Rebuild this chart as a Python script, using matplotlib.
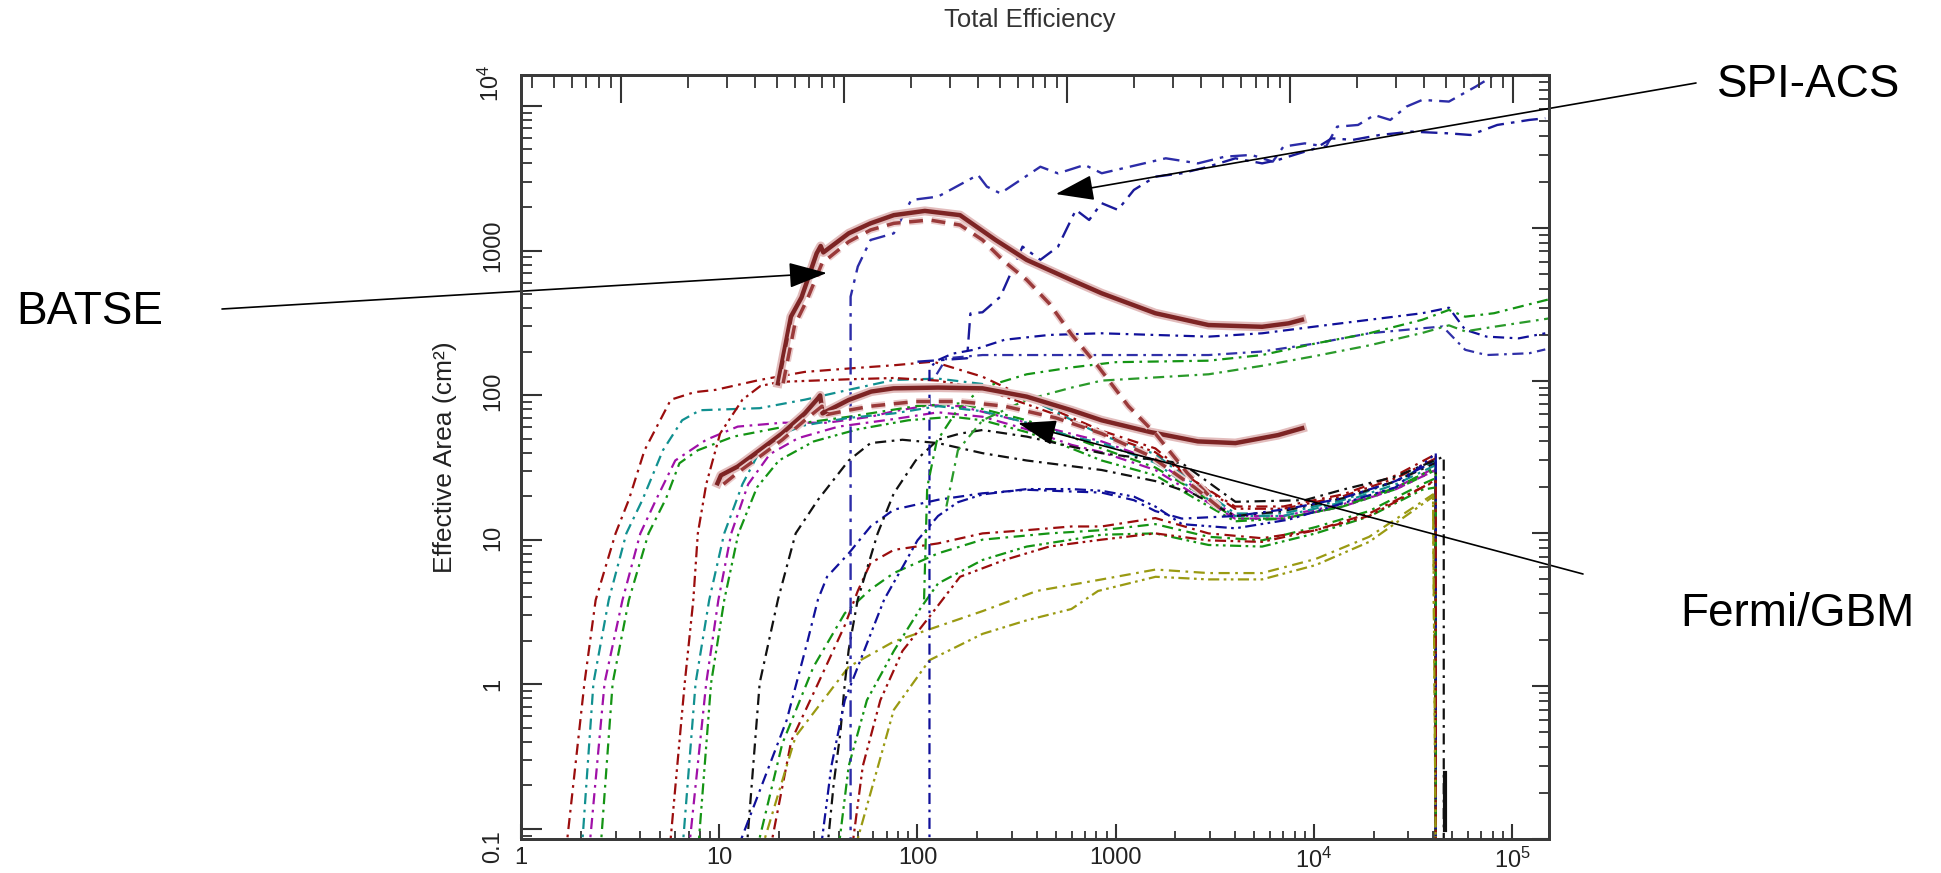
import numpy as np
import matplotlib.pyplot as plt
import matplotlib.patheffects as pe

# ---- data (energy in keV, effective area in cm^2) ----
# GBM NaI, first group (rise at 2-3 keV)
red1_e = [1.68, 2.09, 2.38, 3.0, 3.5, 4.2, 5.7, 7.5, 9.6, 16, 27, 45, 76, 120, 213, 400, 850, 1585, 2500, 4000, 7000, 14000, 26000, 41200, 41200]
red1_a = [0.08, 1.05, 3.66, 10, 16.6, 35, 75, 84, 87, 101, 114, 120, 126, 133, 106, 72, 47, 36, 22, 15, 15, 18, 24, 33, 0.08]
teal1_e = [2.02, 2.32, 2.77, 3.4, 4.1, 5.2, 6.5, 8, 16, 27, 45, 76, 127, 213, 400, 850, 1585, 2500, 4000, 7000, 14000, 26000, 41200, 41200]
teal1_a = [0.08, 1.05, 3.66, 10, 16.6, 35, 55, 64, 66, 75, 87, 101, 103, 95, 72, 44, 33, 21, 13.5, 13.5, 16.5, 22, 30, 0.08]
magenta1_e = [2.2, 2.64, 3.25, 4.0, 4.8, 6.0, 8.6, 12.4, 20.8, 35, 58, 76, 115, 164, 356, 850, 1585, 2500, 4000, 7000, 14000, 26000, 41200, 41200]
magenta1_a = [0.08, 1.05, 3.66, 10, 16.6, 30, 41, 50, 53, 53, 58, 63, 69, 68, 53, 40, 30, 20, 13, 13, 15.5, 20, 27, 0.08]
green1_e = [2.51, 2.9, 3.5, 4.4, 5.4, 6.3, 7.8, 11.8, 27, 45, 98, 164, 356, 850, 1585, 2500, 4000, 7000, 14000, 26000, 41200, 41200]
green1_a = [0.08, 1.05, 3.66, 10, 17, 28.8, 35, 43, 53, 58, 68, 71, 55, 36, 27, 19, 12.5, 12.5, 15, 19.5, 26, 0.08]

# second group (rise at 6-8 keV)
red2_e = [5.6, 6.7, 7.4, 7.8, 8.6, 10.1, 13.1, 16.1, 20, 30, 45, 76, 127, 213, 356, 600, 850, 1585, 2500, 4000, 7000, 14000, 26000, 41200, 41200]
red2_a = [0.08, 1.05, 3.66, 10, 21, 45, 75, 92, 98, 100, 102, 104, 100, 88, 70, 55, 45, 34, 22, 14.5, 14.5, 17.5, 23, 31, 0.08]
teal2_e = [6.5, 7.6, 8.9, 10.6, 13.1, 16.1, 20.8, 27, 45, 76, 127, 213, 356, 598, 850, 1585, 2500, 4000, 7000, 14000, 26000, 41200, 41200]
teal2_a = [0.08, 1.05, 3.66, 10, 21, 35, 45, 51, 57, 61, 68, 63, 53, 43, 39, 29, 19, 13, 13, 16, 21, 28, 0.08]
magenta2_e = [7.0, 8.6, 9.9, 11.5, 14, 18, 25, 40, 76, 127, 213, 356, 598, 850, 1585, 2500, 4000, 7000, 14000, 26000, 41200, 41200]
magenta2_a = [0.08, 1.05, 3.66, 10, 21, 33, 42, 50, 56, 62, 58, 48, 38, 34, 26, 18, 12.5, 12.5, 15, 19.5, 26, 0.08]
green2_e = [7.8, 9.1, 10.6, 12.5, 15.5, 20, 30, 50, 90, 150, 213, 356, 598, 850, 1585, 2500, 4000, 7000, 14000, 26000, 41200, 41200]
green2_a = [0.08, 1.05, 3.66, 10, 20, 30, 40, 48, 55, 58, 55, 46, 36, 30, 24, 17, 12, 12.5, 15, 20, 27, 0.08]

# third group (rise at 12-18 keV)
black3_e = [13.7, 16, 19.8, 24.3, 31.5, 45, 58, 84, 127, 213, 356, 849, 1585, 2500, 4000, 7000, 14000, 26000, 41200, 41200]
black3_a = [0.08, 1.05, 3.7, 10, 16.6, 30, 39, 41, 39, 33.5, 30, 26, 22, 18, 13, 14, 17, 22, 29, 0.08]
blue3_e = [12.1, 21.9, 27.7, 31.5, 35, 45, 58, 76, 127, 213, 356, 598, 849, 1236, 1585, 2160, 4020, 7460, 13900, 25800, 41200, 41200]
blue3_a = [0.08, 0.6, 1.9, 3.7, 5.2, 7.4, 11.1, 14.3, 16.6, 18.3, 19.3, 18.8, 18.5, 16.5, 14, 12.5, 13, 14.5, 17, 22, 30, 0.08]
green3_e = [15.3, 20.8, 29.9, 43, 58, 76, 127, 213, 462, 849, 1585, 2940, 5480, 10200, 19000, 35200, 41200, 41200]
green3_a = [0.08, 0.42, 1.34, 3.0, 4.3, 5.5, 7.4, 9.1, 10, 10.5, 11.5, 9.5, 9, 11, 14, 21, 23, 0.08]
red3_e = [17.9, 23.1, 31.5, 43, 50, 58, 76, 127, 213, 356, 598, 849, 1585, 2940, 5480, 10200, 19000, 35200, 41200, 41200]
red3_a = [0.08, 0.44, 1.04, 2.5, 4.2, 6.4, 7.8, 8.6, 10, 10.5, 11.1, 11.1, 12.6, 10, 9.3, 10.5, 13.5, 20, 22.4, 0.08]
olive3_e = [16.1, 24.3, 45, 76, 213, 400, 851, 1590, 2940, 5480, 10200, 19000, 39900, 41200]
olive3_a = [0.08, 0.47, 1.34, 1.96, 3.1, 4.2, 5.0, 5.8, 5.5, 5.5, 6.8, 9.5, 18, 0.08]

# fourth group (rise at 32-48 keV)
black4_e = [34.9, 37.8, 40.8, 43, 45, 50, 63, 76, 98, 127, 164, 213, 356, 598, 849, 2160, 4020, 9000, 13900, 25800, 45200, 45200]
black4_a = [0.08, 0.23, 0.49, 1.04, 1.73, 3.7, 10, 18.3, 30, 41, 45, 47.5, 43, 37, 33.5, 28.8, 16.1, 16.5, 19.3, 23.5, 31.8, 0.08]
blue4_e = [32.3, 36.8, 43, 55.6, 68, 84, 100, 127, 160, 213, 356, 600, 850, 1236, 1585, 2160, 4020, 7460, 13900, 25800, 41200, 41200]
blue4_a = [0.08, 0.3, 0.81, 1.9, 3.7, 6, 9, 13, 16, 18, 19.5, 19.5, 19, 17.4, 15, 11.5, 10.8, 12.3, 15.7, 20, 33.4, 0.08]
green4_e = [39.7, 45, 55.6, 76, 103, 127, 213, 356, 598, 849, 1585, 2940, 5480, 10200, 19000, 35200, 41200, 41200]
green4_a = [0.08, 0.3, 0.81, 1.7, 3.2, 4.7, 6.7, 8.2, 9.1, 9.8, 10, 8.4, 8.2, 10, 12.9, 19.3, 20, 0.08]
red4_e = [46.4, 53, 65, 84, 115, 164, 275, 462, 849, 1585, 2940, 5480, 10200, 19000, 35200, 41200, 41200]
red4_a = [0.08, 0.3, 0.81, 1.7, 2.85, 5.2, 6.7, 8.2, 9.1, 10, 9, 8.8, 10.5, 13, 20, 22, 0.08]
olive4_e = [47.6, 76, 115, 213, 356, 598, 815, 1590, 2940, 5480, 10200, 19000, 39900, 41200]
olive4_a = [0.08, 0.7, 1.48, 2.2, 2.7, 3.2, 4.2, 5.2, 5.0, 5.0, 6.2, 8.8, 17.4, 0.08]
black_stub_e = [45600, 45600]
black_stub_a = [0.27, 0.115]

# GBM BGO
bgo_navy1_e = [115, 115, 125, 150, 192, 275, 462, 849, 2945, 5480, 10200, 19000, 35200, 48000, 58000, 74300, 108000, 147000]
bgo_navy1_a = [0.08, 120, 135, 150, 159, 185, 199, 204, 194, 204, 226, 250, 276, 300, 215, 194, 189, 204]
bgo_navy2_e = [125, 140, 213, 849, 2945, 5480, 10200, 19000, 35200, 44600, 58000, 74300, 122000, 147000]
bgo_navy2_a = [110, 140, 147, 147, 147, 155, 175, 204, 220, 226, 159, 147, 151, 160]
bgo_green1_e = [108, 112, 125, 160, 213, 356, 600, 1000, 2945, 5480, 10200, 19000, 35200, 48000, 58000, 81000, 153000]
bgo_green1_a = [3.7, 20, 40, 65, 90, 110, 122, 132, 135, 147, 175, 204, 250, 290, 262, 276, 340]
bgo_green2_e = [140, 160, 213, 356, 600, 851, 2945, 5480, 10200, 19000, 35200, 48000, 58000, 81000, 153000]
bgo_green2_a = [15, 35, 55, 75, 90, 100, 110, 125, 145, 170, 205, 230, 210, 225, 255]

# SPI-ACS
spi1_e = [46, 46, 50, 58, 76, 93, 127, 202, 224, 262, 417, 512, 698, 851, 1790, 2600, 3550, 4840, 6200, 7020, 9000, 11500, 13100, 16700, 20200, 24300, 29300, 35200, 48000, 65600, 74300, 90000]
spi1_a = [0.08, 354, 557, 832, 920, 1520, 1600, 2220, 1860, 1680, 2510, 2270, 2580, 2275, 2850, 2640, 2920, 3000, 2710, 3400, 3570, 3400, 4590, 4710, 5470, 5080, 6210, 6870, 6700, 8400, 9270, 11000]
spi2_e = [100, 178, 185, 213, 262, 339, 417, 512, 630, 735, 849, 1026, 1236, 1585, 2160, 2945, 4018, 5480, 6600, 7950, 10200, 12300, 15700, 21500, 31100, 48000, 61700, 84100, 122000, 147000]
spi2_a = [133, 140, 275, 280, 354, 753, 617, 753, 1310, 1125, 1450, 1310, 1770, 2160, 2275, 2515, 2850, 2640, 2780, 3000, 3310, 3850, 3760, 4050, 4260, 4150, 4050, 4710, 5080, 5210]

# BATSE
batse_hi_e = [19.8, 23, 26, 31, 32.5, 33.5, 45, 58, 76, 109, 164, 248, 356, 598, 849, 1585, 2940, 5480, 7460, 8700]
batse_hi_a = [96, 262, 350, 680, 760, 690, 920, 1070, 1210, 1290, 1210, 832, 616, 455, 373, 276, 231, 225, 237, 250]
batse_hi_dash_e = [21, 24, 27.7, 33, 45, 58, 76, 115, 164, 213, 275, 356, 462, 600, 815, 1160, 1585, 2300, 3330]
batse_hi_dash_a = [96, 230, 337, 586, 811, 968, 1070, 1125, 1043, 832, 600, 456, 320, 200, 124, 68, 45, 24.8, 15]
batse_lo_e = [9.8, 10.2, 12.4, 16.1, 20.8, 27, 31.5, 32.3, 33.2, 45, 58.5, 75.7, 127, 213, 356, 598, 849, 1500, 2600, 4020, 6600, 8730]
batse_lo_a = [21.3, 24, 27.4, 35.2, 45.2, 61, 76.6, 80, 61, 74.7, 84.8, 89, 90, 89, 78.5, 64, 55, 46, 40, 39, 44, 48.8]
batse_lo_dash_e = [10.5, 12.4, 16.1, 20.8, 27, 33, 35, 45, 58, 98, 164, 275, 500, 850, 1500, 2500, 3500]
batse_lo_dash_a = [21, 25, 32, 41, 55, 68, 60, 64, 68, 73, 73, 68, 57, 45, 32, 20, 14]

y_ticks = [0.1, 1, 10, 100, 1000, 1e4]
y_labels = ['0.1', '1', '10', '100', '1000', r'$\mathregular{10^4}$']
x_ticks = [1, 10, 100, 1000, 1e4, 1e5]
x_labels = ['1', '10', '100', '1000', r'$\mathregular{10^4}$', r'$\mathregular{10^5}$']

# ---- style ----
plt.rcParams['font.family'] = ['Liberation Sans', 'DejaVu Sans']
plt.rcParams['mathtext.fontset'] = 'custom'
plt.rcParams['mathtext.rm'] = 'Liberation Sans'
plt.rcParams['mathtext.it'] = 'Liberation Sans:italic'
plt.rcParams['mathtext.bf'] = 'Liberation Sans:bold'

W, H = 1941, 873
fig = plt.figure(figsize=(W / 100, H / 100), dpi=100)
ax = fig.add_axes([521 / W, 1 - 839 / H, (1549 - 521) / W, (839 - 75) / H])

c_red, c_teal, c_mag, c_green = '#9b0d0d', '#119090', '#a010a8', '#149414'
c_blue, c_black, c_olive = '#10109a', '#111111', '#9a9a12'
dd = (0, (5, 2.5, 1.2, 2.5))
ddd = (0, (5, 2, 1.2, 2, 1.2, 2))

nai = [
    (red1_e, red1_a, c_red, dd), (teal1_e, teal1_a, c_teal, dd),
    (magenta1_e, magenta1_a, c_mag, dd), (green1_e, green1_a, c_green, dd),
    (red2_e, red2_a, c_red, ddd), (teal2_e, teal2_a, c_teal, dd),
    (magenta2_e, magenta2_a, c_mag, dd), (green2_e, green2_a, c_green, ddd),
    (black3_e, black3_a, c_black, dd), (blue3_e, blue3_a, c_blue, dd),
    (green3_e, green3_a, c_green, dd), (red3_e, red3_a, c_red, dd),
    (olive3_e, olive3_a, c_olive, dd), (black4_e, black4_a, c_black, dd),
    (blue4_e, blue4_a, c_blue, ddd), (green4_e, green4_a, c_green, ddd),
    (red4_e, red4_a, c_red, ddd), (olive4_e, olive4_a, c_olive, ddd),
    (bgo_navy1_e, bgo_navy1_a, c_blue, dd), (bgo_navy2_e, bgo_navy2_a, '#3030a8', dd),
    (bgo_green1_e, bgo_green1_a, c_green, dd), (bgo_green2_e, bgo_green2_a, '#2a9a2a', dd),
]
for e, a, c, ls in nai:
    ax.plot(e, a, color=c, ls=ls, lw=1.6, zorder=2)
ax.plot(black_stub_e, black_stub_a, color=c_black, lw=3, zorder=2)

spi_ls = (0, (7, 3, 1.5, 3))
ax.plot(spi1_e, spi1_a, color='#2c2ca8', ls=spi_ls, lw=1.7, zorder=3)
ax.plot(spi2_e, spi2_a, color='#1a1a9a', ls=spi_ls, lw=1.7, zorder=3)

halo = [pe.Stroke(linewidth=6.5, foreground='#e2bcbc'), pe.Normal()]
halo_d = [pe.Stroke(linewidth=5, foreground='#ebcccc'), pe.Normal()]
ax.plot(batse_hi_e, batse_hi_a, color='#7d2424', lw=3.2, zorder=4, path_effects=halo)
ax.plot(batse_lo_e, batse_lo_a, color='#7d2424', lw=3.2, zorder=4, path_effects=halo)
ax.plot(batse_hi_dash_e, batse_hi_dash_a, color='#9a3a3a', lw=2.5, ls=(0, (4, 2.5)), zorder=4, path_effects=halo_d)
ax.plot(batse_lo_dash_e, batse_lo_dash_a, color='#9a3a3a', lw=2.5, ls=(0, (4, 2.5)), zorder=4, path_effects=halo_d)

# extra tick layers (the picture is a composite with shifted tick scales)
ax_l = ax.twinx()
ax_l.set_yscale('log')
ax_l.set_ylim(10 ** -1.069, 10 ** 4.214)
ax_l.yaxis.tick_left()
ax_l.tick_params(axis='y', which='major', direction='in', length=15, width=1.5, color='#333333',
                 labelleft=False, labelright=False)
ax_l.tick_params(axis='y', which='minor', direction='in', length=8, width=1.3, color='#333333')

ax_t = ax.twiny()
ax_t.set_xscale('log')
ax_t.set_xlim(10 ** 0.5516, 10 ** 5.161)
ax_t.xaxis.tick_top()
ax_t.tick_params(axis='x', which='major', direction='in', length=20, width=1.5, color='#333333',
                 labeltop=False, labelbottom=False)
ax_t.tick_params(axis='x', which='minor', direction='in', length=9, width=1.3, color='#333333')

ax.set_xscale('log')
ax.set_yscale('log')
ax.set_xlim(1.047, 1.535e5)
ax.set_ylim(0.1, 1e4)
ax.set_yticks(y_ticks, labels=y_labels)
ax.set_xticks(x_ticks, labels=x_labels)
ax.tick_params(axis='y', which='both', direction='in', left=False, right=True,
               labelleft=True, labelright=False, color='#333333')
ax.tick_params(axis='y', which='major', length=12, width=1.5, labelsize=17, labelrotation=90, pad=12,
               labelcolor='#222222')
ax.tick_params(axis='y', which='minor', length=7, width=1.3)
ax.tick_params(axis='x', which='both', direction='in', top=False, bottom=True, color='#333333')
ax.tick_params(axis='x', which='major', length=11, width=1.5, labelsize=17, pad=6, labelcolor='#222222')
ax.tick_params(axis='x', which='minor', length=6, width=1.3)
for a_ in (ax, ax_l, ax_t):
    for s in a_.spines.values():
        s.set_color('#3a3a3a')
        s.set_linewidth(2)

fig.text(1030 / W, 1 - 20 / H, 'Total Efficiency', ha='center', va='center', fontsize=18.5, color='#333333')
fig.text(445 / W, 1 - 457 / H, 'Effective Area (cm²)', rotation=90, ha='center', va='center',
         fontsize=19, color='#222222')

# instrument labels with pointer arrows
fig.text(16 / W, 1 - 324 / H, 'BATSE', fontsize=33, va='baseline', ha='left')
fig.text(1717 / W, 1 - 97 / H, 'SPI-ACS', fontsize=33, va='baseline', ha='left')
fig.text(1680 / W, 1 - 626 / H, 'Fermi/GBM', fontsize=33, va='baseline', ha='left')
arrow = dict(arrowstyle='-|>,head_length=1.2,head_width=0.4', mutation_scale=20, lw=1.2,
             color='black', shrinkA=0, shrinkB=0)
ax.annotate('', xy=(34.9, 506), xytext=(222, H - 309), textcoords='figure pixels',
            arrowprops=arrow, annotation_clip=False, zorder=10)
ax.annotate('', xy=(499, 1663), xytext=(1696, H - 83), textcoords='figure pixels',
            arrowprops=arrow, annotation_clip=False, zorder=10)
ax.annotate('', xy=(322, 52.7), xytext=(1583, H - 574), textcoords='figure pixels',
            arrowprops=arrow, annotation_clip=False, zorder=10)

fig.savefig('out.png', dpi=100, facecolor='white')
